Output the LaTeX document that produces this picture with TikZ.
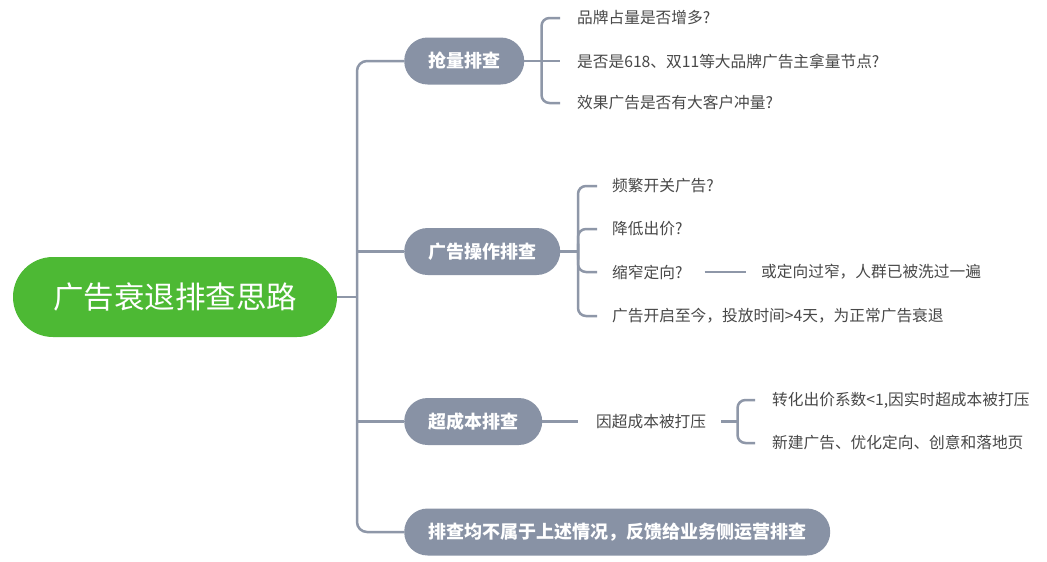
\documentclass[tikz,border=0pt]{standalone}
\usepackage{fontspec}
\setmainfont{Noto Sans CJK SC}
\definecolor{rootgreen}{RGB}{77,185,52}
\definecolor{nodegray}{RGB}{136,146,165}
\definecolor{linegray}{RGB}{142,151,168}
\definecolor{txt}{RGB}{72,72,72}
\tikzset{
  conn/.style={draw=linegray, line width=2.5pt},
  rootnode/.style={fill=rootgreen, text=white, rounded corners=40pt, minimum height=80pt, inner xsep=40pt, inner ysep=0pt, font=\fontsize{30.5}{32}\selectfont},
  branchnode/.style={fill=nodegray, text=white, rounded corners=23.5pt, minimum height=47pt, inner xsep=24pt, inner ysep=0pt, anchor=west, font=\fontsize{18}{20}\selectfont\bfseries},
  leaf/.style={anchor=west, inner sep=0pt, text=txt, font=\fontsize{15.7}{17}\selectfont}
}
\begin{document}
\begin{tikzpicture}[x=1pt,y=-1pt]
\useasboundingbox (0,0) rectangle (1047,562);
\fill[white] (0,0) rectangle (1047,562);

% root
\node[rootnode] (root) at (175,297) {广告衰退排查思路};

% branches
\node[branchnode] (b1) at (404,61) {抢量排查};
\node[branchnode] (b2) at (404,251.5) {广告操作排查};
\node[branchnode] (b3) at (404,421.5) {超成本排查};
\node[branchnode] (b4) at (404,532) {排查均不属于上述情况，反馈给业务侧运营排查};

% leaves
\node[leaf] (l11) at (577,18) {品牌占量是否增多?};
\node[leaf] (l12) at (577,61) {是否是618、双11等大品牌广告主拿量节点?};
\node[leaf] (l13) at (577,103) {效果广告是否有大客户冲量?};

\node[leaf] (l21) at (612,186) {频繁开关广告?};
\node[leaf] (l22) at (612,229) {降低出价?};
\node[leaf] (l23) at (612,272) {缩窄定向?};
\node[leaf] (l23b) at (761,272) {或定向过窄，人群已被洗过一遍};
\node[leaf] (l24) at (612,316) {广告开启至今，投放时间>4天，为正常广告衰退};

\node[leaf] (l31) at (596,421.5) {因超成本被打压};
\node[leaf] (l32) at (772,400) {转化出价系数<1,因实时超成本被打压};
\node[leaf] (l33) at (772,443) {新建广告、优化定向、创意和落地页};

% trunk
\coordinate (tr) at (357,297);
\draw[conn] (root.east) -- (tr);
\draw[conn, rounded corners=10pt] (b1.west) -| (tr) |- (b4.west);
\draw[conn] (tr |- b2.west) -- (b2.west);
\draw[conn] (tr |- b3.west) -- (b3.west);

% branch 1 bracket
\coordinate (k1) at (541.5,61);
\draw[conn, rounded corners=8pt] ([xshift=-17pt]l11.west) -| (k1) |- ([xshift=-17pt]l13.west);
\draw[conn] (b1.east) -- ([xshift=-17pt]l12.west);

% branch 2 bracket
\coordinate (k2) at (578,251.5);
\draw[conn, rounded corners=8pt] ([xshift=-15pt]l21.west) -| (k2) |- ([xshift=-15pt]l24.west);
\draw[conn] (b2.east) -- (k2);
\draw[conn, rounded corners=8pt] ([xshift=-15pt]l22.west) -| ([yshift=-8pt]k2);
\draw[conn, rounded corners=8pt] ([xshift=-15pt]l23.west) -| ([yshift=8pt]k2);
\draw[conn] ([xshift=22pt]l23.east) -- ([xshift=-15pt]l23b.west);

% branch 3
\draw[conn] (b3.east) -- ([xshift=-18pt]l31.west);
\coordinate (k3) at (737.5,421.5);
\draw[conn] ([xshift=15pt]l31.east) -- (k3);
\draw[conn, rounded corners=8pt] ([xshift=-17pt]l32.west) -| (k3) |- ([xshift=-17pt]l33.west);
\end{tikzpicture}
\end{document}
